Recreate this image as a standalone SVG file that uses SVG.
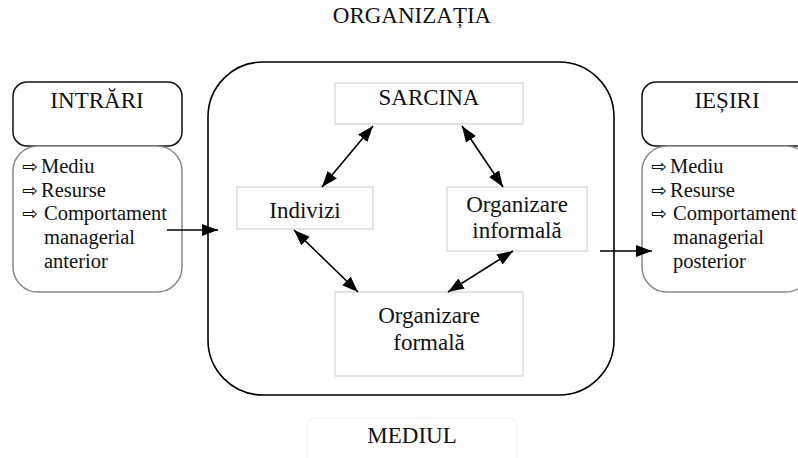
<svg xmlns="http://www.w3.org/2000/svg" width="798" height="458" viewBox="0 0 798 458">
<defs>
<marker id="ah" markerUnits="userSpaceOnUse" markerWidth="17" markerHeight="13" refX="16" refY="6" orient="auto-start-reverse">
<path d="M0,0 L16,6 L0,12 z" fill="#000"/>
</marker>
<style>
text{font-family:"Liberation Serif","Times New Roman",serif;fill:#111}
.t{font-size:23px;text-anchor:middle}
.l{font-size:20.5px}
.s{font-family:"DejaVu Sans",sans-serif;font-size:19px}
.node{fill:#fff;stroke:#ddd;stroke-width:1.5}
.conn{stroke:#000;stroke-width:1.6;fill:none}
</style>
</defs>
<rect width="798" height="458" fill="#fff"/>
<text class="t" x="412" y="23">ORGANIZAȚIA</text>
<g id="organizatia"><rect x="208" y="62" width="406" height="333" rx="55" fill="none" stroke="#000" stroke-width="1.6"/></g>
<g id="intrari">
<rect x="13" y="82" width="169" height="64" rx="14" fill="#fff" stroke="#111" stroke-width="1.5"/>
<text class="t" x="97" y="108">INTRĂRI</text>
<rect x="13" y="146" width="169" height="146" rx="25" fill="#fff" stroke="#888" stroke-width="1.5"/>
<text class="s" x="22" y="173">⇨</text><text class="l" x="41" y="173">Mediu</text>
<text class="s" x="22" y="197">⇨</text><text class="l" x="41" y="197">Resurse</text>
<text class="s" x="22" y="220">⇨</text><text class="l" x="44" y="220">Comportament</text>
<text class="l" x="44" y="244">managerial</text>
<text class="l" x="44" y="268">anterior</text>
</g>
<g id="iesiri">
<rect x="642" y="82" width="169" height="64" rx="14" fill="#fff" stroke="#111" stroke-width="1.5"/>
<text class="t" x="727" y="108">IEȘIRI</text>
<rect x="642" y="146" width="169" height="146" rx="25" fill="#fff" stroke="#888" stroke-width="1.5"/>
<text class="s" x="651" y="173">⇨</text><text class="l" x="670" y="173">Mediu</text>
<text class="s" x="651" y="197">⇨</text><text class="l" x="670" y="197">Resurse</text>
<text class="s" x="651" y="220">⇨</text><text class="l" x="673" y="220">Comportament</text>
<text class="l" x="673" y="244">managerial</text>
<text class="l" x="673" y="268">posterior</text>
</g>
<g id="sarcina"><rect class="node" x="335" y="83" width="188" height="41"/><text class="t" x="429" y="105">SARCINA</text></g>
<g id="indivizi"><rect class="node" x="237" y="187" width="136" height="42"/><text class="t" x="305" y="218">Indivizi</text></g>
<g id="informala"><rect class="node" x="447" y="187" width="140" height="64"/><text class="t" x="517" y="212">Organizare</text><text class="t" x="517" y="238">informală</text></g>
<g id="formala"><rect class="node" x="335" y="292" width="188" height="84"/><text class="t" x="429" y="323">Organizare</text><text class="t" x="429" y="350">formală</text></g>
<g id="mediul"><rect x="307" y="418" width="210" height="50" rx="6" fill="#fff" stroke="#f2f2f2" stroke-width="1.5"/><text class="t" x="412" y="443">MEDIUL</text></g>
<g id="connectors">
<line class="conn" x1="373" y1="126" x2="322" y2="187" marker-start="url(#ah)" marker-end="url(#ah)"/>
<line class="conn" x1="462" y1="126" x2="503" y2="187" marker-start="url(#ah)" marker-end="url(#ah)"/>
<line class="conn" x1="294" y1="230" x2="358" y2="292" marker-start="url(#ah)" marker-end="url(#ah)"/>
<line class="conn" x1="513" y1="251" x2="448" y2="292" marker-start="url(#ah)" marker-end="url(#ah)"/>
<line class="conn" x1="167" y1="230" x2="218" y2="230" marker-end="url(#ah)"/>
<line class="conn" x1="600" y1="251" x2="652" y2="251" marker-end="url(#ah)"/>
</g>
</svg>
